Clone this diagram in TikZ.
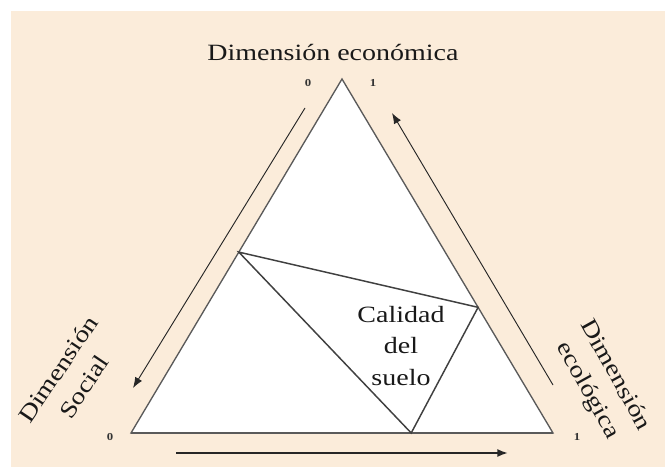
\documentclass[tikz,border=0pt]{standalone}
\usepackage{fontspec}
\setmainfont{Liberation Serif}[FakeStretch=1.2]
\usetikzlibrary{calc,arrows.meta}
\definecolor{fondo}{RGB}{251,236,218}
\definecolor{linea}{RGB}{90,90,90}

\begin{document}
\begin{tikzpicture}[x=0.75pt,y=-0.75pt,
    etiqueta/.style={font=\fontsize{17.5}{23.5}\selectfont, align=center, text=black!90},
    cifra/.style={font=\fontsize{8}{9}\selectfont\bfseries, text=black!80},
    flecha/.style={-{Latex[length=8pt,width=6pt]}, line width=0.7pt, black!85}]
    % Background
    \useasboundingbox (0,0) rectangle (665,467);
    \fill[fondo] (11,11) rectangle (665,467);
    % Draw the triangle
    \coordinate (A) at (131,433);
    \coordinate (B) at (553,433);
    \coordinate (C) at (342,79);
    \filldraw[fill=white, draw=linea, line width=1pt] (A) -- (B) -- (C) -- cycle;
    \draw[linea, line width=1.8pt] (A) -- (B);
    % Inner triangle
    \coordinate (P) at ($(A)!0.511!(C)$);
    \coordinate (Q) at ($(C)!0.645!(B)$);
    \coordinate (R) at ($(A)!0.664!(B)$);
    \draw[black!75, line width=1.1pt] (P) -- (Q) -- (R) -- cycle;
    \node[etiqueta] (calidad) at (401,346) {Calidad\\del\\suelo};
    % Arrows
    \coordinate (s1) at (305,108);
    \coordinate (s2) at (133,388);
    \coordinate (e1) at (553,385);
    \coordinate (e2) at (392,113);
    \coordinate (b1) at (176,453);
    \coordinate (b2) at (508,453);
    \draw[flecha] (s1) -- (s2);
    \draw[flecha] (e1) -- (e2);
    \draw[flecha, line width=1.3pt] (b1) -- (b2);
    % Labels
    \node[etiqueta, anchor=base] (eco) at (333,61) {Dimensión económica};
    \node[etiqueta, rotate=56] (soc) at (71,378) {Dimensión\\Social};
    \node[etiqueta, rotate=-61] (ecol) at (601,383) {Dimensión\\ecológica};
    \node[cifra] (c0) at (308,83) {0};
    \node[cifra] (c1) at (373,83) {1};
    \node[cifra] (a0) at (110,437) {0};
    \node[cifra] (b1n) at (577,437) {1};
  \end{tikzpicture}
\end{document}
